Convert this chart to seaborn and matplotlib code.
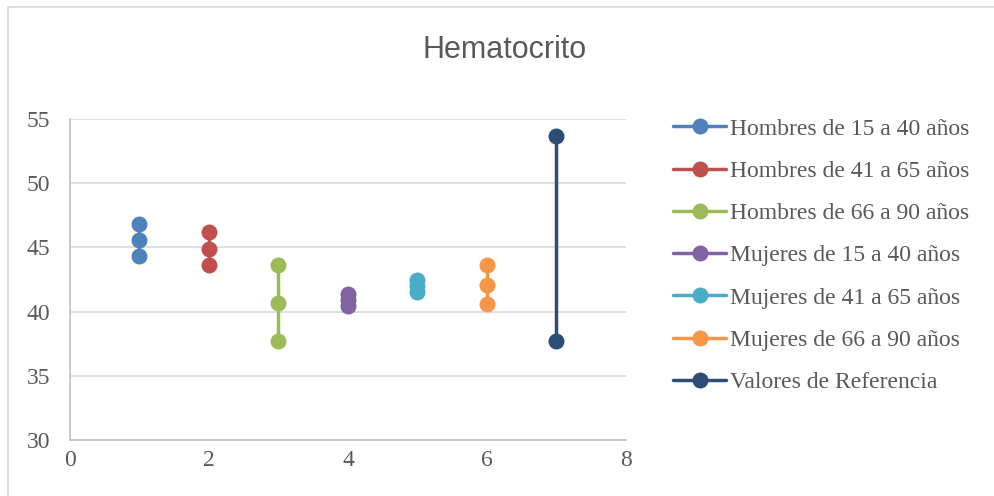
import matplotlib
matplotlib.use("Agg")
import matplotlib.pyplot as plt
import seaborn as sns
import pandas as pd
from matplotlib.lines import Line2D

series = ["Hombres de 15 a 40 años", "Hombres de 41 a 65 años", "Hombres de 66 a 90 años",
          "Mujeres de 15 a 40 años", "Mujeres de 41 a 65 años", "Mujeres de 66 a 90 años",
          "Valores de Referencia"]
x_pos = [1, 2, 3, 4, 5, 6, 7]
h15_40 = [46.8, 45.6, 44.3]
h41_65 = [46.2, 44.9, 43.6]
h66_90 = [43.6, 40.7, 37.7]
m15_40 = [41.4, 40.9, 40.4]
m41_65 = [42.5, 42.0, 41.5]
m66_90 = [43.6, 42.1, 40.6]
referencia = [53.7, 37.7]
values = [h15_40, h41_65, h66_90, m15_40, m41_65, m66_90, referencia]
colors = ["#4F81BD", "#C0504D", "#9BBB59", "#8064A2", "#4BACC6", "#F79646", "#2C4D75"]

rows = []
for name, xv, vals in zip(series, x_pos, values):
    for i, v in enumerate(vals):
        rows.append({"serie": name, "x": xv, "y": v, "orden": i})
df = pd.DataFrame(rows)

sns.set_style("white")
plt.rcParams["font.family"] = ["Liberation Serif", "DejaVu Serif"]

W, H = 995, 496
fig = plt.figure(figsize=(W/100, H/100), dpi=100)
ax = fig.add_axes([70/W, 1-440/H, (626-70)/W, (440-119)/H])

sns.lineplot(data=df, x="x", y="y", hue="serie", hue_order=series, palette=colors,
             estimator=None, sort=False, marker="o", markersize=11.5, markeredgewidth=0,
             linewidth=2.5, ax=ax)

ax.set_xlim(0, 8)
ax.set_ylim(30, 55)
ax.set_xticks([0, 2, 4, 6, 8])
ax.set_yticks([30, 35, 40, 45, 50, 55])
ax.set_xlabel("")
ax.set_ylabel("")
ax.grid(axis="y", color="#d9d9d9", linewidth=1.2)
ax.set_axisbelow(True)
for s in ["top", "right"]:
    ax.spines[s].set_visible(False)
for s in ["left", "bottom"]:
    ax.spines[s].set_color("#bfbfbf")
    ax.spines[s].set_linewidth(1.2)
ax.tick_params(axis="both", length=0, labelsize=17, colors="#595959")
ax.tick_params(axis="y", pad=14)
ax.tick_params(axis="x", pad=7)

handles, labels = ax.get_legend_handles_labels()
ax.legend(handles, labels, loc="upper left", bbox_to_anchor=(673/W, 1-118/H),
          bbox_transform=fig.transFigure, frameon=False, fontsize=17,
          labelcolor="#595959", handlelength=2.25, handletextpad=0.15,
          labelspacing=0.88, borderaxespad=0, borderpad=0)

fig.text(505/W, 1-50/H, "Hematocrito", ha="center", va="center", fontsize=22,
         color="#595959", family=["Liberation Sans", "DejaVu Sans"])

fig.add_artist(Line2D([8/W, 1], [1-7/H, 1-7/H], transform=fig.transFigure,
                      color="#d9d9d9", linewidth=1.2))
fig.add_artist(Line2D([8/W, 8/W], [0, 1-7/H], transform=fig.transFigure,
                      color="#d9d9d9", linewidth=1.2))

fig.savefig("out.png", dpi=100)
